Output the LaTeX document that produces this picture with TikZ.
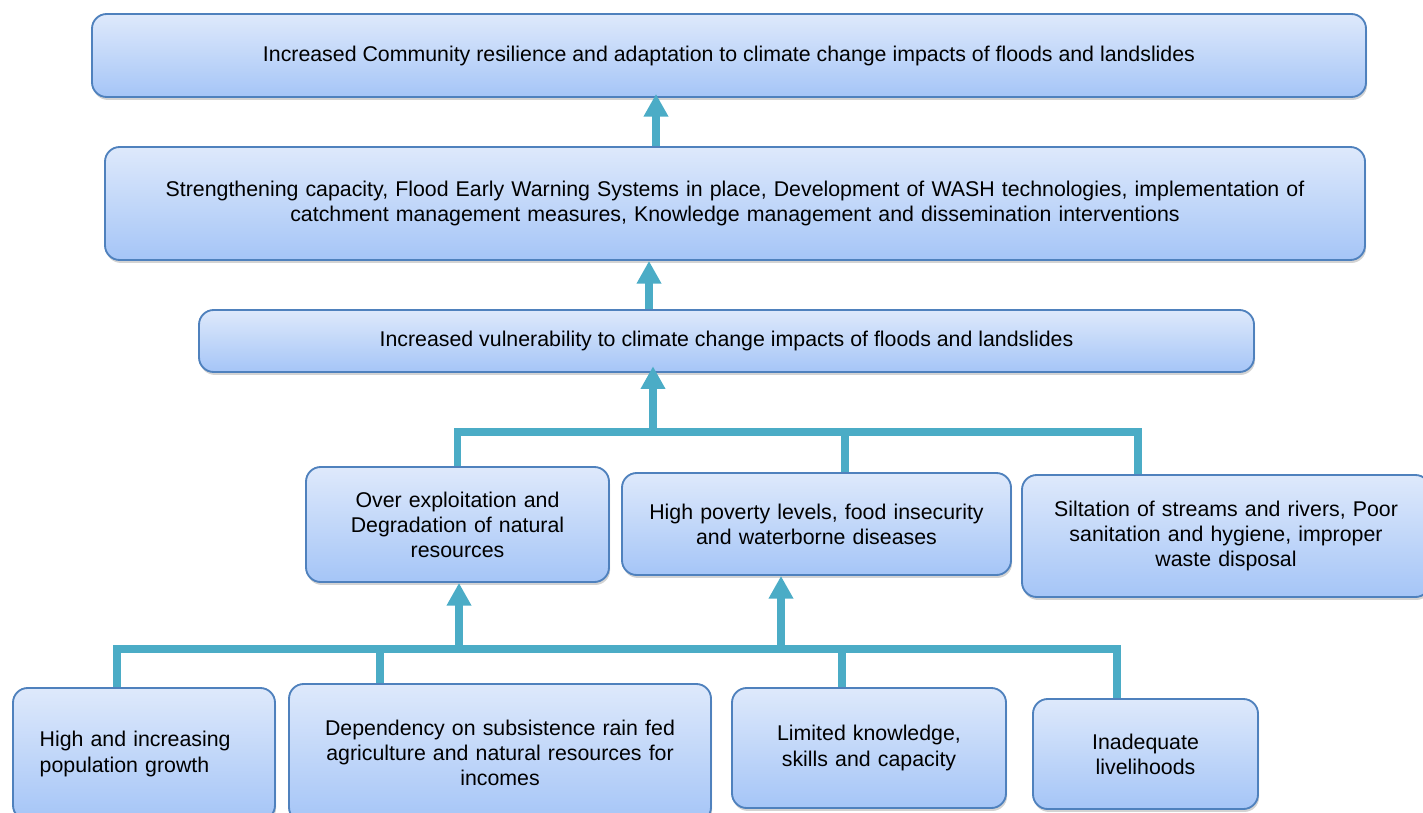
\documentclass[tikz,border=0pt]{standalone}
\usepackage{fontspec}
\setmainfont{Liberation Sans}
\usetikzlibrary{arrows.meta,shadows}
\definecolor{boxtop}{RGB}{222,233,251}
\definecolor{boxbot}{RGB}{165,197,247}
\definecolor{boxline}{RGB}{79,129,189}
\definecolor{conncol}{RGB}{75,172,198}
\begin{document}
\begin{tikzpicture}[x=0.75pt,y=-0.75pt,
  box/.style={draw=boxline, line width=1.4pt, rounded corners=11pt,
    top color=boxtop, bottom color=boxbot, inner sep=0pt, align=center,
    font=\fontsize{16}{18.8}\selectfont,
    drop shadow={opacity=0.35, shadow xshift=0.8pt, shadow yshift=-2.2pt}},
  conn/.style={draw=conncol, line width=5.8pt, line join=miter},
  arr/.style={conn, -{Triangle[width=17.5pt,length=17pt]}}]
\useasboundingbox (0,0) rectangle (1423,813);
% boxes
\node[box, minimum width=955.5pt, minimum height=62.25pt] (b1) at (729,55.5)
  {Increased Community resilience and adaptation to climate change impacts of floods and landslides};
\node[box, minimum width=945pt, minimum height=84.75pt, text width=930pt] (b2) at (735,203.5)
  {Strengthening capacity, Flood Early Warning Systems in place, Development of WASH technologies, implementation of\\ catchment management measures, Knowledge management and dissemination interventions};
\node[box, minimum width=791.25pt, minimum height=46.5pt] (b3) at (726.5,341)
  {Increased vulnerability to climate change impacts of floods and landslides};
\node[box, minimum width=227.25pt, minimum height=86.25pt, text width=215pt] (b4) at (457.5,524.5)
  {Over exploitation and\\ Degradation of natural\\ resources};
\node[box, minimum width=291.75pt, minimum height=76.5pt, text width=280pt] (b5) at (816.5,524)
  {High poverty levels, food insecurity\\ and waterborne diseases};
\node[box, minimum width=306pt, minimum height=91.5pt, text width=295pt] (b6) at (1226,536)
  {Siltation of streams and rivers, Poor\\ sanitation and hygiene, improper\\ waste disposal};
\node[box, minimum width=196.5pt, minimum height=99pt, text width=156.5pt, align=left] (b7) at (144,754)
  {High and increasing\\ population growth};
\node[box, minimum width=316.5pt, minimum height=103.5pt, text width=305pt] (b8) at (500,753)
  {Dependency on subsistence rain fed\\ agriculture and natural resources for\\ incomes};
\node[box, minimum width=205.5pt, minimum height=90pt, text width=195pt] (b9) at (869,748)
  {Limited knowledge,\\ skills and capacity};
\node[box, minimum width=168.75pt, minimum height=82.5pt, text width=160pt] (b10) at (1145.5,754)
  {Inadequate\\ livelihoods};
% junction coordinates
\coordinate (a1) at (656,0);
\coordinate (a2) at (649,0);
\coordinate (j1) at (653,432);
\coordinate (r1) at (1138,432);
\coordinate (m1) at (845,432);
\coordinate (l2) at (117,649);
\coordinate (r2) at (1117,649);
\coordinate (m2) at (380,649);
\coordinate (m3) at (842,649);
\coordinate (j2) at (459,649);
\coordinate (j3) at (781,649);
% upper arrows
\draw[arr] (a1 |- b2.north) -- ([yshift=3pt]a1 |- b1.south);
\draw[arr] (a2 |- b3.north) -- (a2 |- b2.south);
% middle tree
\draw[conn] (b4.north) |- (r1) -- (r1 |- b6.north);
\draw[conn] (m1) -- (m1 |- b5.north);
\draw[arr] (j1) -- ([yshift=5pt]j1 |- b3.south);
% bottom tree
\draw[conn] (l2 |- b7.north) -- (l2) -- (r2) -- (r2 |- b10.north);
\draw[conn] (m2) -- (m2 |- b8.north);
\draw[conn] (m3) -- (m3 |- b9.north);
\draw[arr] (j2) -- (j2 |- b4.south);
\draw[arr] (j3) -- (j3 |- b5.south);
\end{tikzpicture}
\end{document}
